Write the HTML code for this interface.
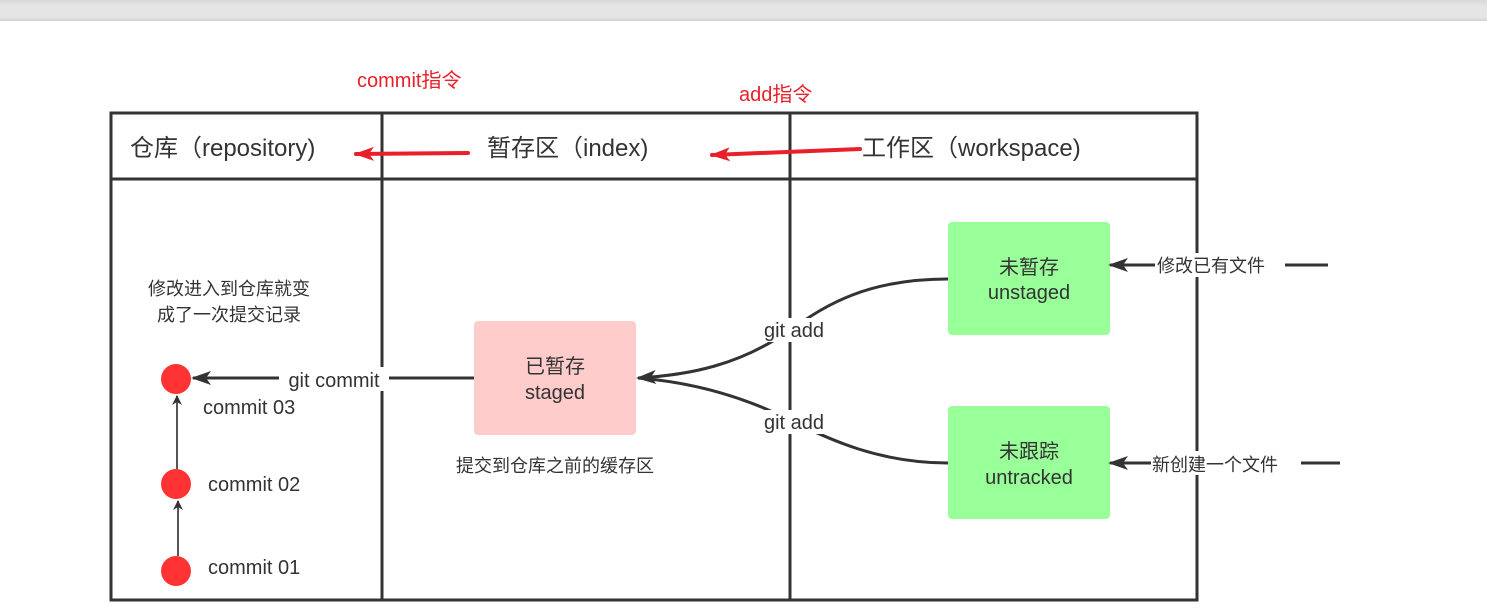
<!DOCTYPE html>
<html><head><meta charset="utf-8"><style>
html,body{margin:0;padding:0;background:#fff;width:1487px;height:613px;overflow:hidden}
svg text{font-family:"Liberation Sans","Noto Sans CJK SC",sans-serif}
</style></head><body>
<svg width="1487" height="613" viewBox="0 0 1487 613" xmlns="http://www.w3.org/2000/svg">
<defs>
<linearGradient id="tb" x1="0" y1="0" x2="0" y2="1"><stop offset="0" stop-color="#d8d8d8"/><stop offset="0.3" stop-color="#e6e6e6"/><stop offset="0.85" stop-color="#e4e4e4"/><stop offset="1" stop-color="#d2d2d2"/></linearGradient>
<marker id="ah" markerWidth="10" markerHeight="10" refX="9" refY="5" orient="auto" markerUnits="userSpaceOnUse"><path d="M0,0 L10,5 L0,10 L3,5 z" fill="#333"/></marker>
<marker id="ahk" viewBox="0 0 20 14" markerWidth="22" markerHeight="14" refX="18" refY="7" orient="auto" markerUnits="userSpaceOnUse"><path d="M0,0 L20,7 L0,14 L5,7 z" fill="#333"/></marker>
<marker id="ahr" viewBox="0 0 20 14" markerWidth="22" markerHeight="14" refX="18" refY="7" orient="auto" markerUnits="userSpaceOnUse"><path d="M0,0 L20,7 L0,14 L5,7 z" fill="#e8202a"/></marker>
</defs>
<rect x="0" y="0" width="1487" height="21" fill="url(#tb)"/>
<!-- table -->
<g stroke="#333" stroke-width="3" fill="none">
<rect x="111" y="113" width="1086" height="487"/>
<line x1="111" y1="179" x2="1197" y2="179"/>
<line x1="382" y1="113" x2="382" y2="600"/>
<line x1="790" y1="113" x2="790" y2="600"/>
</g>
<!-- header text -->
<g font-size="24" fill="#333">
<text x="130" y="156">仓库（repository)</text>
<text x="487" y="156">暂存区（index)</text>
<text x="862" y="156">工作区（workspace)</text>
</g>
<g font-size="20" fill="#e8202a">
<text x="357" y="87">commit指令</text>
<text x="739" y="101">add指令</text>
</g>
<line x1="468" y1="153" x2="356" y2="154" stroke="#e8202a" stroke-width="4" stroke-linecap="round" marker-end="url(#ahr)"/>
<line x1="860" y1="149" x2="712" y2="155" stroke="#e8202a" stroke-width="4" stroke-linecap="round" marker-end="url(#ahr)"/>
<!-- boxes -->
<rect x="474" y="321" width="162" height="114" rx="4" fill="#ffcccc"/>
<rect x="948" y="222" width="162" height="113" rx="4" fill="#99ff99"/>
<rect x="948" y="406" width="162" height="113" rx="4" fill="#99ff99"/>
<g font-size="20" fill="#333" text-anchor="middle">
<text x="555" y="373">已暂存</text>
<text x="555" y="399">staged</text>
<text x="1029" y="274">未暂存</text>
<text x="1029" y="299">unstaged</text>
<text x="1029" y="458">未跟踪</text>
<text x="1029" y="484">untracked</text>
</g>
<!-- commits -->
<circle cx="176" cy="379" r="15" fill="#f33"/>
<circle cx="176" cy="484" r="15" fill="#f33"/>
<circle cx="176" cy="571" r="15" fill="#f33"/>
<line x1="177" y1="469" x2="177" y2="396" stroke="#555" stroke-width="2" marker-end="url(#ah)"/>
<line x1="178" y1="556" x2="178" y2="501" stroke="#555" stroke-width="2" marker-end="url(#ah)"/>
<g font-size="20" fill="#333">
<text x="203" y="414">commit  03</text>
<text x="208" y="491">commit  02</text>
<text x="208" y="574">commit  01</text>
</g>
<line x1="474" y1="378" x2="193" y2="378" stroke="#333" stroke-width="3" marker-end="url(#ahk)"/>
<rect x="279" y="367" width="110" height="24" fill="#fff"/>
<text x="334" y="387" font-size="20" fill="#333" text-anchor="middle">git commit</text>
<g font-size="18" fill="#333" text-anchor="middle">
<text x="229" y="295">修改进入到仓库就变</text>
<text x="229" y="321">成了一次提交记录</text>
<text x="555" y="472">提交到仓库之前的缓存区</text>
</g>
<!-- git add curves -->
<path d="M948,279 C860,279 820,310 790,330 C740,365 690,375 638,378" stroke="#333" stroke-width="3" fill="none" marker-end="url(#ahk)"/>
<path d="M948,463 C880,463 830,440 790,420 C740,395 690,382 638,378" stroke="#333" stroke-width="3" fill="none"/>
<rect x="755" y="318" width="78" height="24" fill="#fff"/>
<rect x="755" y="410" width="78" height="24" fill="#fff"/>
<g font-size="20" fill="#333" text-anchor="middle">
<text x="794" y="337">git add</text>
<text x="794" y="429">git add</text>
</g>
<!-- right inputs -->
<line x1="1328" y1="265" x2="1110" y2="265" stroke="#333" stroke-width="3" marker-end="url(#ahk)"/>
<line x1="1340" y1="463" x2="1110" y2="463" stroke="#333" stroke-width="3" marker-end="url(#ahk)"/>
<rect x="1155" y="253" width="130" height="24" fill="#fff"/>
<rect x="1151" y="451" width="150" height="24" fill="#fff"/>
<g font-size="18" fill="#333">
<text x="1157" y="272">修改已有文件</text>
<text x="1152" y="471">新创建一个文件</text>
</g>
</svg>
</body></html>
